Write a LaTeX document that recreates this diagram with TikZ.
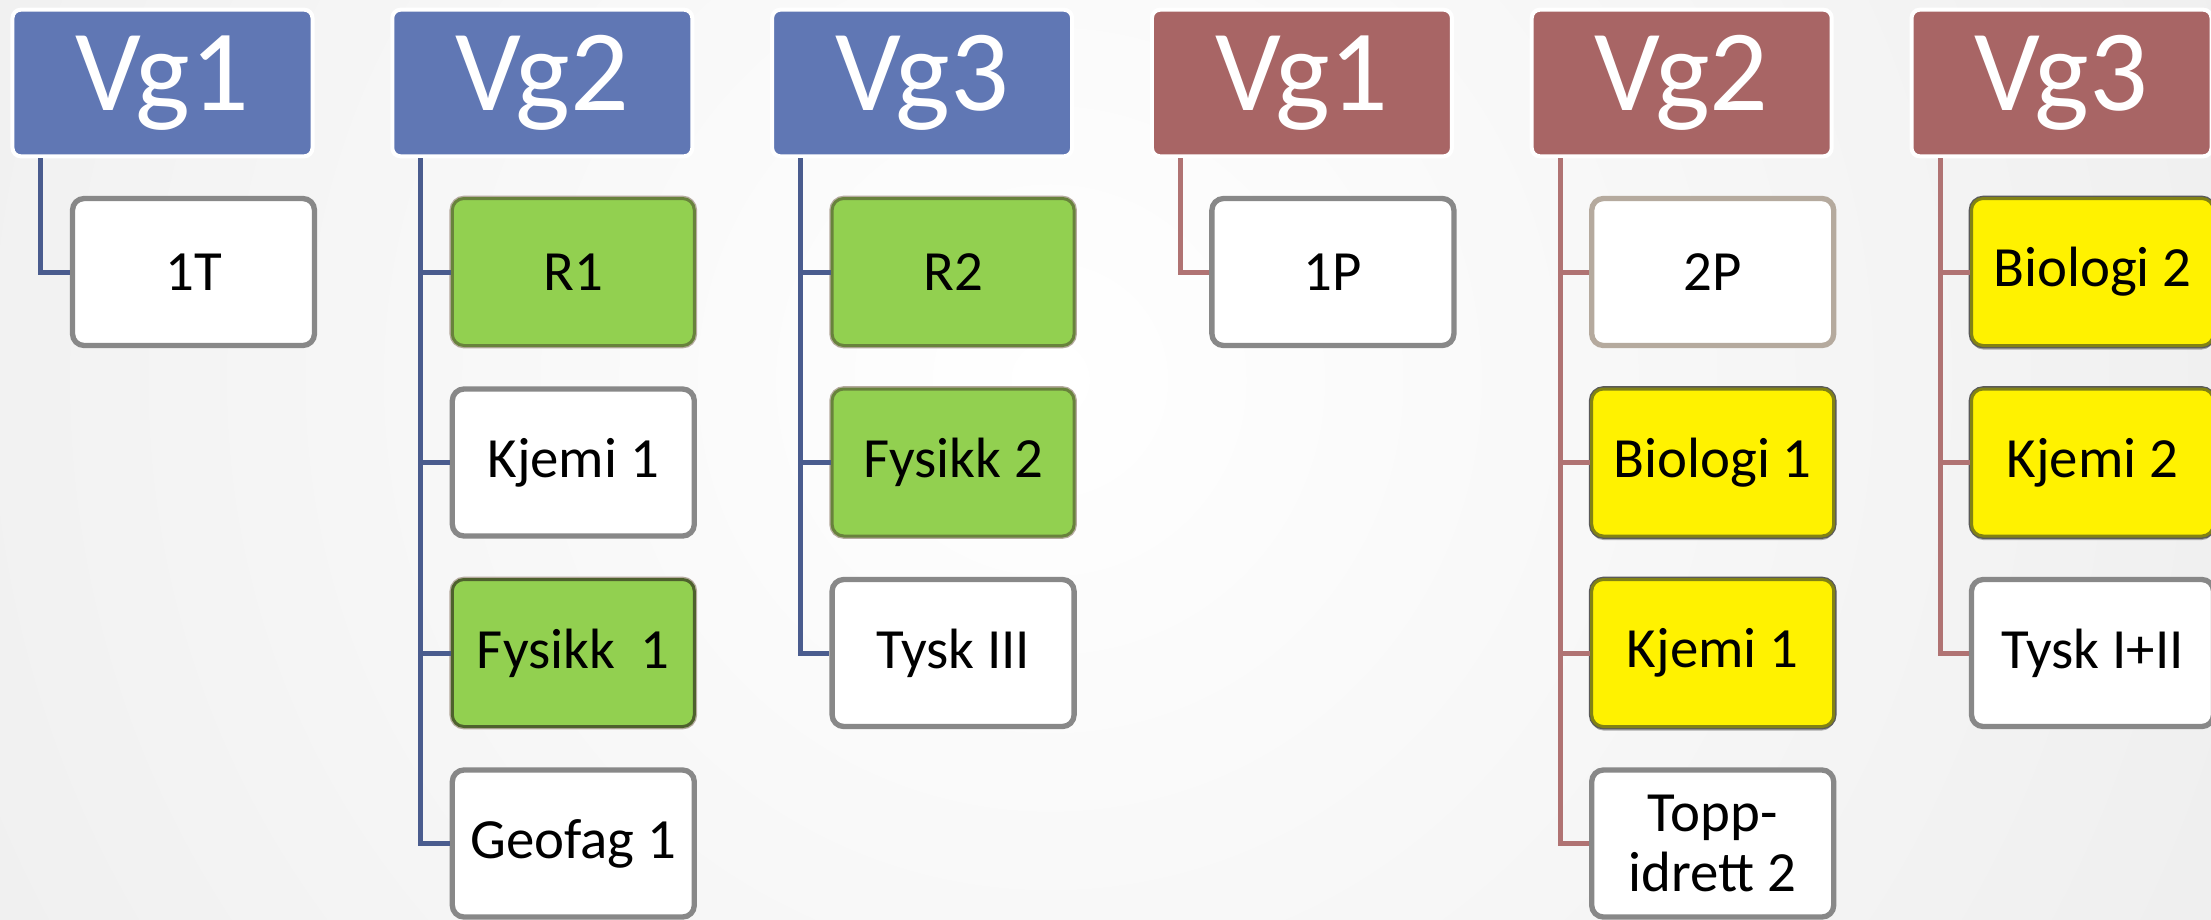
\documentclass[tikz,border=0pt]{standalone}
\usepackage{fontspec}
\setmainfont{Carlito}
\usetikzlibrary{positioning,shadows}

\definecolor{hblue}{RGB}{96,119,180}
\definecolor{hred}{RGB}{168,101,101}
\definecolor{lblue}{RGB}{74,92,142}
\definecolor{lred}{RGB}{176,115,115}
\definecolor{boxgray}{RGB}{136,136,136}
\definecolor{boxtan}{RGB}{181,170,158}
\definecolor{fgreen}{RGB}{146,208,80}
\definecolor{dgreen}{RGB}{104,130,60}
\definecolor{yolive}{RGB}{130,130,20}

\tikzset{
	head/.style={rectangle, rounded corners=2.5mm, fill=#1, draw=white, line width=1.2mm,
		minimum width=90mm, minimum height=44mm, text=white, font=\fontsize{99}{100}\selectfont},
	sub/.style={rectangle, rounded corners=3.5mm, fill=white, draw=boxgray, line width=1.6mm,
		minimum width=72.6mm, minimum height=44.1mm, align=center, font=\fontsize{48.5}{50.5}\selectfont},
	gbox/.style={sub, fill=fgreen, draw=dgreen, line width=0.9mm, preaction={draw=boxtan, line width=1.7mm}},
	ybox/.style={sub, fill=yellow, draw=yolive, line width=0.9mm,
		drop shadow={shadow xshift=0mm, shadow yshift=-1.2mm, opacity=0.3, fill=black},
		preaction={draw=black!65, line width=1.7mm}},
	link/.style={line width=1.5mm}
}

\begin{document}
\begin{tikzpicture}[x=0.3mm, y=-0.3mm]
				\useasboundingbox (0,0) rectangle (2211,919);
				\begin{scope}
					\clip (0,0) rectangle (2211,919);
					\fill[white] (0,0) rectangle (2211,919);
					\shade[inner color=white, outer color=black!12] (1050,380) circle (2400);
				\end{scope}
				
				% headers
				\foreach \n/\t/\c [count=\i from 0] in
				{h1/Vg1/hblue, h2/Vg2/hblue, h3/Vg3/hblue, h4/Vg1/hred, h5/Vg2/hred, h6/Vg3/hred}{
					\node[head=\c] (\n) at (162.5+379.8*\i, 83) {\t};
				}
				
				% Vg1 (blue)
				\node[sub] (a1) at (193.5,272) {1T};
				
				% Vg2 (blue)
				\node[gbox] (b1) at (573.3,272) {R1};
				\node[sub] (b2) at (573.3,462.5) {Kjemi 1};
				\node[gbox, draw=dgreen!75!black] (b3) at (573.3,653) {Fysikk~~1};
				\node[sub] (b4) at (573.3,843.5) {Geofag 1};
				
				% Vg3 (blue)
				\node[gbox] (c1) at (953.1,272) {R2};
				\node[gbox] (c2) at (953.1,462.5) {Fysikk 2};
				\node[sub] (c3) at (953.1,653) {Tysk III};
				
				% Vg1 (red)
				\node[sub] (d1) at (1332.9,272) {1P};
				
				% Vg2 (red)
				\node[sub, draw=boxtan] (e1) at (1712.7,272) {2P};
				\node[ybox] (e2) at (1712.7,462.5) {Biologi 1};
				\node[ybox] (e3) at (1712.7,653) {Kjemi 1};
				\node[sub] (e4) at (1712.7,843.5) {Topp-\\idrett 2};
				
				% Vg3 (red)
				\node[ybox] (f1) at (2092.5,272) {Biologi 2};
				\node[ybox] (f2) at (2092.5,462.5) {Kjemi 2};
				\node[sub] (f3) at (2092.5,653) {Tysk I+II};
				
				\foreach \x/\y/\c in
				{h1/a1/lblue, h2/b1/lblue, h2/b2/lblue, h2/b3/lblue, h2/b4/lblue,
				 h3/c1/lblue, h3/c2/lblue, h3/c3/lblue, h4/d1/lred, h5/e1/lred,
				 h5/e2/lred, h5/e3/lred, h5/e4/lred, h6/f1/lred, h6/f2/lred, h6/f3/lred}{
					\draw[link, \c] ([xshift=-36.45mm]\x.south) |- (\y.west);
				}
			\end{tikzpicture}
\end{document}
